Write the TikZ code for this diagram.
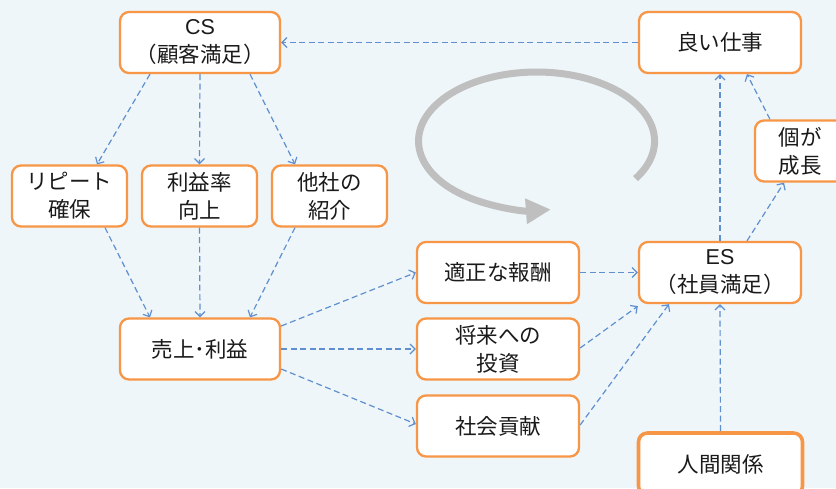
\documentclass[tikz,border=0pt]{standalone}
\usepackage{fontspec}
\setmainfont{Noto Sans CJK JP}
\newfontfamily\latinfont{Liberation Sans}
\usetikzlibrary{arrows.meta}
\definecolor{bg}{HTML}{EEF6F9}
\definecolor{boxorange}{HTML}{F79646}
\definecolor{linkblue}{HTML}{5F8FCF}
\definecolor{arrowgray}{HTML}{BFBFBF}
\definecolor{txt}{HTML}{1A1A1A}
\begin{document}
\begin{tikzpicture}[x=1pt,y=-1pt,
  box/.style={draw=boxorange, line width=2.3pt, fill=white, rounded corners=9pt,
    minimum width=160pt, minimum height=61pt, inner sep=0pt, align=center,
    text=txt, font=\fontsize{21.5}{28}\selectfont},
  smallbox/.style={box, minimum width=115pt},
  link/.style={draw=linkblue, line width=1.2pt, dash pattern=on 6pt off 3.5pt,
    -{Straight Barb[length=5pt,width=10pt,line width=1.2pt]}}]
\useasboundingbox (0,0) rectangle (836,488);
\fill[bg] (0,0) rectangle (836,488);
\clip (0,0) rectangle (836,488);

% cycle arrow
\draw[arrowgray, line width=7pt, -{Triangle[length=25pt,width=24pt]}]
  (635.5,178.6) arc[start angle=33, end angle=-277, x radius=118, y radius=69];

% nodes
\node[box] (cs) at (200,42.5) {{\latinfont CS}\\（顧客満足）};
\node[smallbox] (rp) at (69.5,196) {リピート\\確保};
\node[smallbox] (rr) at (199.5,196) {利益率\\向上};
\node[smallbox] (ts) at (329.5,196) {他社の\\紹介};
\node[box] (ur) at (200,349) {売上･利益};
\node[box, minimum width=162pt] (tk) at (498,272.5) {適正な報酬};
\node[box, minimum width=162pt] (sr) at (498,349) {将来への\\投資};
\node[box, minimum width=162pt] (sk) at (498,426) {社会貢献};
\node[box, minimum width=162pt] (es) at (720,272.5) {{\latinfont ES}\\（社員満足）};
\node[box, minimum width=162pt] (ys) at (720,42.5) {良い仕事};
\node[box, minimum width=90pt] (kg) at (800,151) {個が\\成長};
\node[box, minimum width=164pt, minimum height=62pt, line width=3.6pt] (nk) at (720.5,464) {人間関係};

% connectors
\draw[link] (ys.west) -- (cs.east);
\draw[link] ([xshift=-50pt]cs.south) -- ([xshift=27.5pt]rp.north);
\draw[link] (cs.south) -- (rr.north);
\draw[link] ([xshift=50pt]cs.south) -- ([xshift=-34.5pt]ts.north);
\draw[link] ([xshift=35.5pt]rp.south) -- ([xshift=-50pt]ur.north);
\draw[link] (rr.south) -- (ur.north);
\draw[link] ([xshift=-34.5pt]ts.south) -- ([xshift=50pt]ur.north);
\draw[link] ([yshift=23pt]ur.east) -- (tk.west);
\draw[link] (ur.east) -- (sr.west);
\draw[link] ([yshift=-20pt]ur.east) -- ([yshift=2pt]sk.west);
\draw[link] (tk.east) -- (es.west);
\draw[link] ([yshift=1pt]sr.east) -- ([yshift=-2pt]es.south west);
\draw[link] ([yshift=1pt]sk.east) -- ([xshift=-51pt]es.south);
\draw[link] (nk.north) -- (es.south);
\draw[link] (es.north) -- (ys.south);
\draw[link] ([xshift=27pt]es.north) -- ([xshift=-16pt]kg.south);
\draw[link] ([xshift=-30pt]kg.north) -- ([xshift=27pt]ys.south);
\end{tikzpicture}
\end{document}
